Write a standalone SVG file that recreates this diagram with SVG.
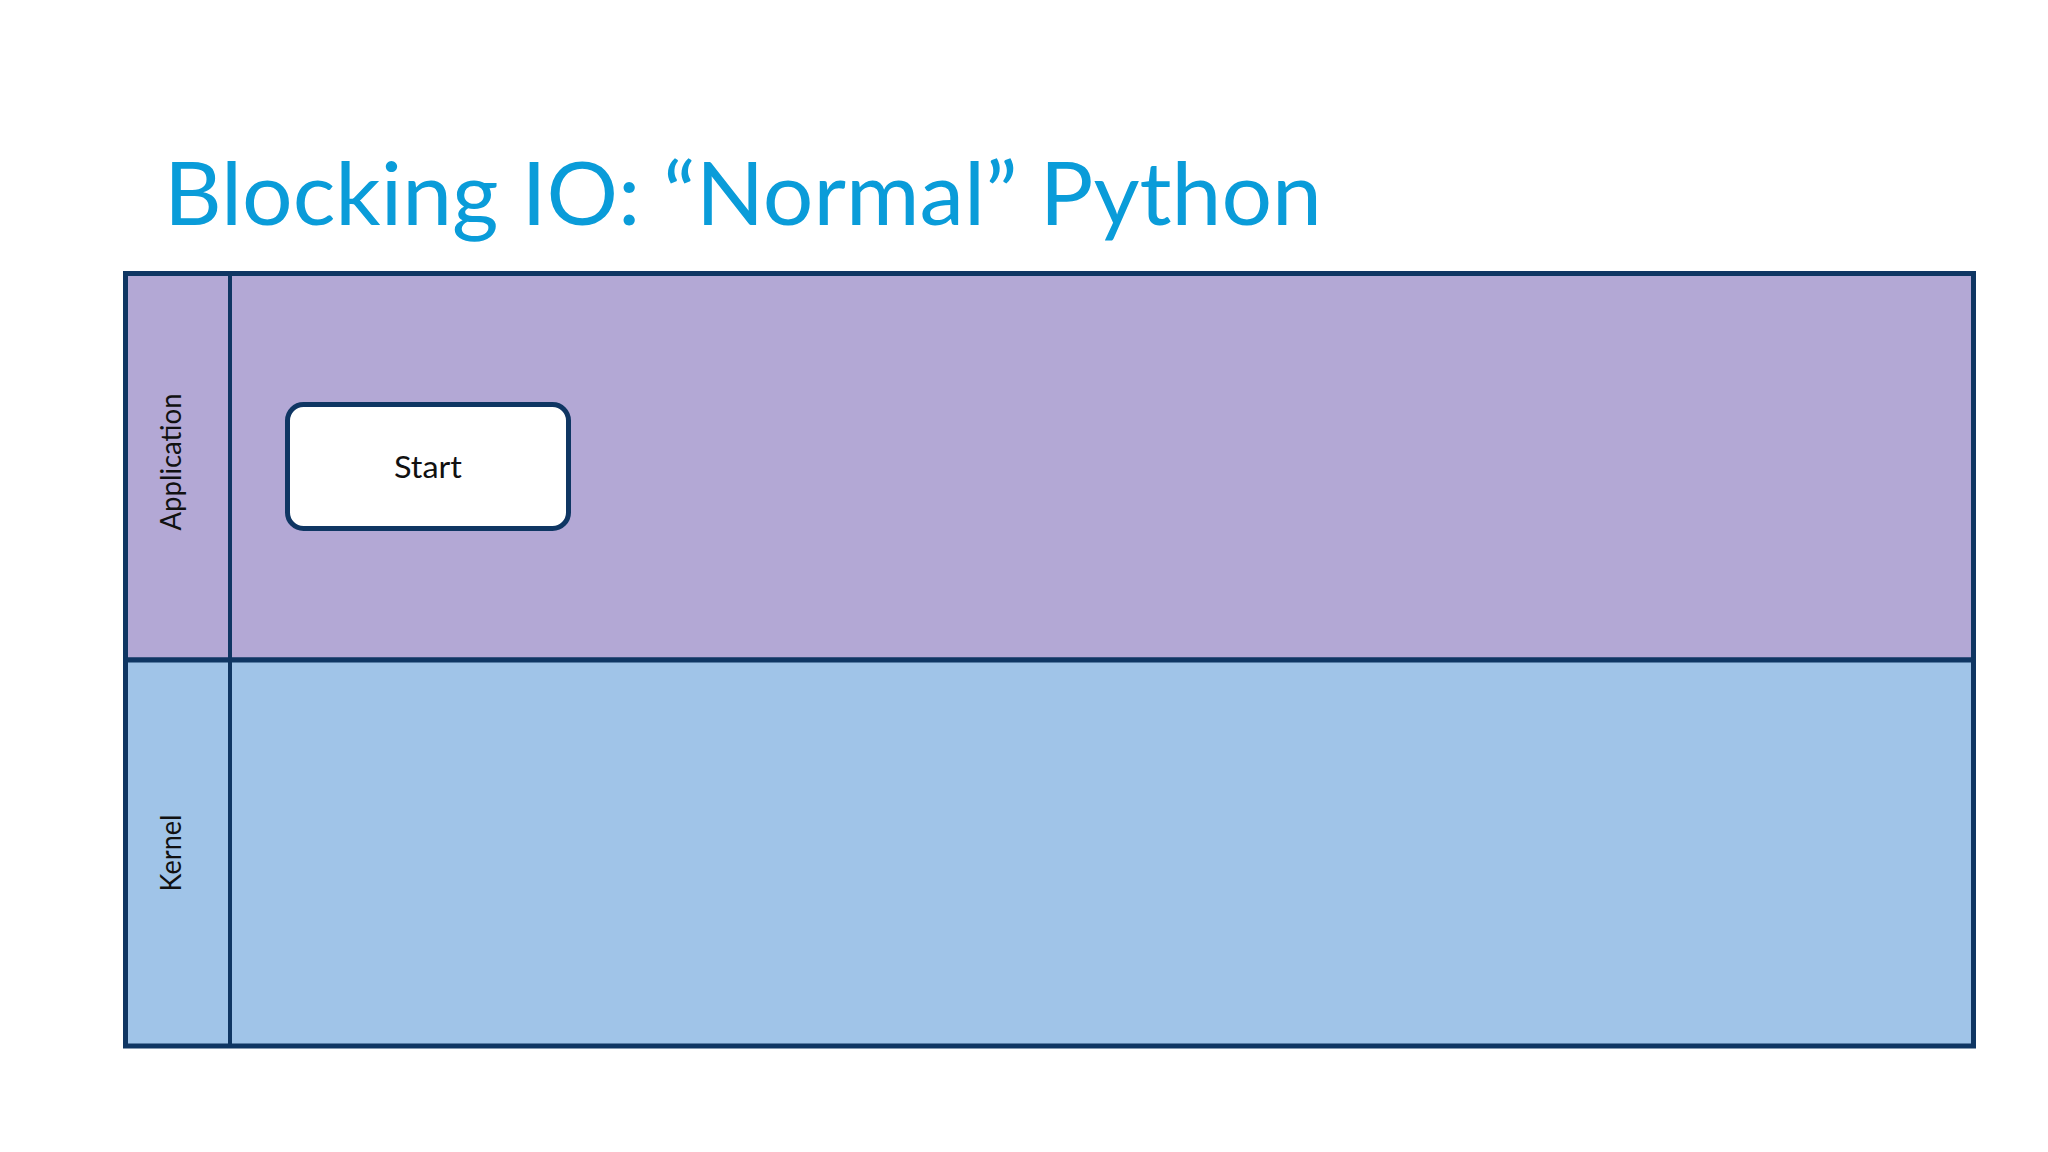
<svg xmlns="http://www.w3.org/2000/svg" width="2048" height="1152" viewBox="0 0 2048 1152">
<style>
.lane{stroke:#0f3663;stroke-width:5}
.line{stroke:#0f3663;stroke-width:4;fill:none}
.lbl{font-family:Lato,"Liberation Sans",sans-serif;font-size:28px;fill:#111;text-anchor:middle;dominant-baseline:central}
.title{font-family:Lato,"Liberation Sans",sans-serif;font-size:88px;fill:#0a9cd9}
.node{fill:#ffffff;stroke:#0f3663;stroke-width:5}
.ntext{font-family:Lato,"Liberation Sans",sans-serif;font-size:31px;fill:#111;text-anchor:middle;dominant-baseline:central}
</style>
<rect width="2048" height="1152" fill="#ffffff"/>
<text class="title" x="164" y="225" textLength="1158" lengthAdjust="spacingAndGlyphs">Blocking IO: “Normal” Python</text>
<g id="lane-application">
<rect x="125.5" y="273.5" width="1848" height="386.5" fill="#b3a8d5" class="lane"/>
<text class="lbl" transform="translate(170,462) rotate(-90)" textLength="137" lengthAdjust="spacingAndGlyphs">Application</text>
</g>
<g id="lane-kernel">
<rect x="125.5" y="660" width="1848" height="386" fill="#a0c4e8" class="lane"/>
<text class="lbl" transform="translate(170,853) rotate(-90)" textLength="77" lengthAdjust="spacingAndGlyphs">Kernel</text>
</g>
<g id="connectors">
<line class="line" x1="230" y1="273.5" x2="230" y2="1046"/>
</g>
<g id="node-start">
<rect class="node" x="287.5" y="404.5" width="281" height="124" rx="16"/>
<text class="ntext" x="428" y="466" textLength="68" lengthAdjust="spacingAndGlyphs">Start</text>
</g>
</svg>
